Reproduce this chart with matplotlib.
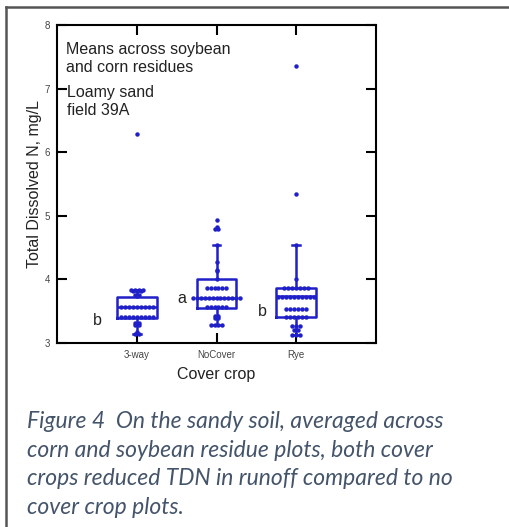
import numpy as np
import matplotlib
matplotlib.use("Agg")
import matplotlib.pyplot as plt
from matplotlib.lines import Line2D

plt.rcParams['font.family'] = ['Liberation Sans', 'DejaVu Sans']

# ---- data ----
groups = ['3-way', 'NoCover', 'Rye']
letters = ['b', 'a', 'b']
letter_x = [0.5, 1.56, 2.58]
letter_y = [3.36, 3.70, 3.49]

threeway = [6.28, 3.84, 3.84, 3.84, 3.84, 3.82, 3.82, 3.82, 3.76, 3.76] + \
           [3.57] * 9 + [3.41] * 9 + [3.32, 3.32, 3.28, 3.28, 3.18, 3.14, 3.14]
nocover = [4.94, 4.82, 4.80, 4.80, 4.54, 4.28, 4.15, 4.13, 4.00] + \
          [3.86] * 6 + [3.70] * 13 + [3.56] * 6 + [3.42, 3.42, 3.40, 3.40] + [3.28] * 4
rye = [7.36, 5.35, 4.54, 4.00] + [3.87] * 7 + [3.73] * 10 + [3.53] * 6 + \
      [3.41] * 6 + [3.27] * 3 + [3.20] * 2 + [3.13] * 3

q1 = [3.40, 3.55, 3.41]
med = [3.57, 3.70, 3.74]
q3 = [3.72, 4.00, 3.86]
wlo = [3.14, 3.28, 3.13]
whi = [3.84, 4.54, 4.54]

blue = '#2020c8'

fig = plt.figure(figsize=(5.09, 5.27), dpi=100)
ax = fig.add_axes([57 / 509, 1 - 343 / 527, 319 / 509, 318 / 527])

stats = []
for i in range(3):
    stats.append(dict(q1=q1[i], med=med[i], q3=q3[i], whislo=wlo[i], whishi=whi[i], fliers=[]))
pos = [1, 2, 3]
ax.bxp(stats, positions=pos, widths=0.5, showfliers=False, patch_artist=False,
       boxprops=dict(color=blue, lw=1.8), medianprops=dict(color=blue, lw=1.8),
       whiskerprops=dict(color=blue, lw=1.8), capprops=dict(color=blue, lw=1.8),
       capwidths=0.1)

# dots, spread sideways where values repeat
for p, vals in zip(pos, [threeway, nocover, rye]):
    vals = np.array(vals)
    for v in np.unique(vals):
        n = np.sum(vals == v)
        off = (np.arange(n) - (n - 1) / 2) * 0.05
        ax.plot(p + off, [v] * n, 'o', color=blue, ms=3.2, mec='none')

for lx, ly, t in zip(letter_x, letter_y, letters):
    ax.text(lx, ly, t, fontsize=11.5, ha='center', va='center', color='#222222')

ax.text(0.11, 7.26, 'Means across soybean\nand corn residues', fontsize=11.5,
        va='baseline', ha='left', linespacing=1.25, color='#222222')
ax.text(0.13, 6.58, 'Loamy sand\nfield 39A', fontsize=11.5,
        va='baseline', ha='left', linespacing=1.25, color='#222222')

ax.set_xlim(0, 4)
ax.set_ylim(3, 8)
ax.set_xticks(pos)
ax.set_xticklabels(groups)
ax.set_yticks([3, 4, 5, 6, 7, 8])
ax.tick_params(direction='in', length=7, width=1.5, top=True, right=True,
               labelsize=7, labelcolor='#444444', pad=5)
for s in ax.spines.values():
    s.set_linewidth(1.5)
ax.set_xlabel('Cover crop', fontsize=11.5, color='#222222', labelpad=5)
ax.set_ylabel('Total Dissolved N, mg/L', fontsize=11.5, color='#222222', labelpad=2)

# frame around figure
fig.add_artist(Line2D([6 / 509, 6 / 509], [0, 1 - 7 / 527], color='#555555', lw=1.8))
fig.add_artist(Line2D([6 / 509, 1], [1 - 7 / 527, 1 - 7 / 527], color='#555555', lw=1.8))

caption = ['Figure 4  On the sandy soil, averaged across',
           'corn and soybean residue plots, both cover',
           'crops reduced TDN in runoff compared to no',
           'cover crop plots.']
for k, line in enumerate(caption):
    fig.text(27 / 509, 1 - (428 + 28.7 * k) / 527, line, fontsize=16.5, style='italic',
             family='Lato', color='#44546a', va='baseline', ha='left')

fig.savefig('out.png', dpi=100)
